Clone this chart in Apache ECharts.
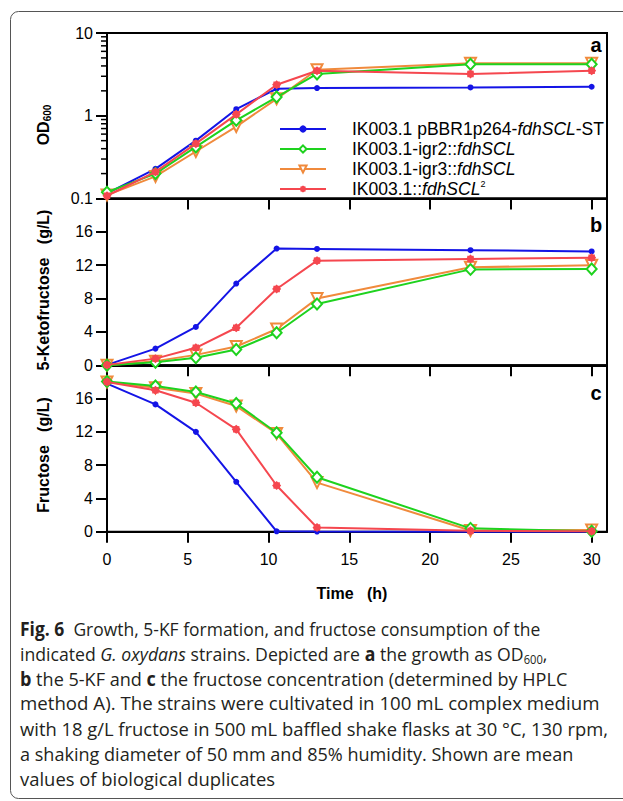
<!DOCTYPE html>
<html><head><meta charset="utf-8">
<script src="https://cdn.jsdelivr.net/npm/echarts@6/dist/echarts.min.js"></script>
<style>html,body{margin:0;padding:0;background:#fff}#c{width:623px;height:801px}</style>
</head><body><div id="c"></div>
<script>
// ---------- data ----------
const time = [0, 3, 5.5, 8, 10.5, 13, 22.5, 30];
const strainNames = ['IK003.1 pBBR1p264-fdhSCL-ST', 'IK003.1-igr2::fdhSCL', 'IK003.1-igr3::fdhSCL', 'IK003.1::fdhSCL2'];

const odBlue   = [0.115, 0.228, 0.50, 1.2, 2.12, 2.16, 2.2, 2.24];
const odGreen  = [0.119, 0.20, 0.42, 0.88, 1.68, 3.2, 4.2, 4.2];
const odOrange = [0.11, 0.185, 0.37, 0.74, 1.6, 3.6, 4.3, 4.3];
const odRed    = [0.108, 0.21, 0.46, 1.04, 2.37, 3.5, 3.2, 3.5];

const kfBlue   = [0.05, 2.0, 4.6, 9.8, 14.0, 13.95, 13.8, 13.65];
const kfGreen  = [0, 0.36, 0.9, 1.9, 3.9, 7.35, 11.5, 11.55];
const kfOrange = [0, 0.5, 1.25, 2.25, 4.35, 8.0, 11.75, 12.0];
const kfRed    = [0.05, 0.8, 2.1, 4.5, 9.15, 12.55, 12.75, 12.9];

const frBlue   = [17.8, 15.3, 12.0, 6.0, 0.05, 0.02, 0, 0];
const frGreen  = [18.05, 17.5, 16.8, 15.4, 11.9, 6.55, 0.4, 0.05];
const frOrange = [18.0, 17.3, 16.6, 15.1, 11.8, 5.9, 0.15, 0.2];
const frRed    = [18.0, 17.0, 15.5, 12.3, 5.55, 0.5, 0.1, 0.05];

const xTicks = [0, 5, 10, 15, 20, 25, 30];
const odMinorTicks = [0.2, 0.3, 0.4, 0.5, 0.6, 0.7, 0.8, 0.9, 2, 3, 4, 5, 6, 7, 8, 9];
const concTicks = [0, 4, 8, 12, 16];

// ---------- styles ----------
const FONT = "Arial, 'Liberation Sans', sans-serif";
const colBlue = '#1414e6', colGreen = '#1ed21e', colOrange = '#f08a3c', colRed = '#f5474f';

function starPath() {
  let s = 'path://';
  for (let k = 0; k < 16; k++) {
    const a = k * Math.PI / 8;
    const r = k % 2 ? 0.8 : 1;
    s += (k ? 'L' : 'M') + (10 + 10 * r * Math.cos(a)).toFixed(2) + ' ' + (10 + 10 * r * Math.sin(a)).toFixed(2);
  }
  return s + 'Z';
}
const STAR = starPath();

const styleDefs = [
  { color: colBlue, symbol: 'circle', size: 6, empty: false },
  { color: colGreen, symbol: 'emptyDiamond', size: [10, 11], empty: true },
  { color: colOrange, symbol: 'emptyTriangle', size: 11, empty: true, rotate: 180 },
  { color: colRed, symbol: STAR, size: 9, empty: false }
];
const panelData = [
  [odBlue, odGreen, odOrange, odRed],
  [kfBlue, kfGreen, kfOrange, kfRed],
  [frBlue, frGreen, frOrange, frRed]
];
const drawOrder = [0, 2, 1, 3];

const series = [];
for (let p = 0; p < 3; p++) {
  drawOrder.forEach(function (s, k) {
    const d = styleDefs[s];
    series.push({
      name: strainNames[s],
      type: 'line',
      xAxisIndex: p, yAxisIndex: p,
      data: time.map(function (t, i) { return [t, panelData[p][s][i]]; }),
      symbol: d.symbol,
      symbolSize: d.size,
      symbolRotate: d.rotate || 0,
      showAllSymbol: true,
      lineStyle: { color: d.color, width: 2 },
      itemStyle: d.empty ? { color: d.color, borderColor: d.color, borderWidth: 2 } : { color: d.color, borderWidth: 0 },
      z: 3 + k,
      clip: false,
      animation: false
    });
  });
}
series.push({
  type: 'custom',
  xAxisIndex: 0, yAxisIndex: 0,
  data: odMinorTicks.map(function (v) { return [0, v]; }),
  silent: true, clip: false, animation: false, z: 10,
  renderItem: function (params, api) {
    const pt = api.coord([0, api.value(1)]);
    return { type: 'line', shape: { x1: pt[0] - 6, y1: pt[1], x2: pt[0], y2: pt[1] }, style: { stroke: '#000', lineWidth: 1.5 } };
  }
});

const grids = [
  { left: 107, top: 33, width: 500, height: 165.5 },
  { left: 107, top: 198.5, width: 500, height: 166.8 },
  { left: 107, top: 365.3, width: 500, height: 166.4 }
].map(function (g) { return Object.assign({ show: true, borderColor: '#000', borderWidth: 2, backgroundColor: 'transparent' }, g); });

const axisLineStyle = { show: true, onZero: false, lineStyle: { color: '#000', width: 2 } };
const xAxes = [0, 1, 2].map(function (i) {
  return {
    type: 'value', gridIndex: i, min: 0, max: 30.95,
    axisLine: axisLineStyle,
    axisTick: { show: true, customValues: xTicks, length: 11, lineStyle: { color: '#000', width: 2 } },
    axisLabel: { show: i === 2, customValues: xTicks, margin: 20, fontSize: 16, color: '#000', fontFamily: FONT },
    splitLine: { show: false }
  };
});
const yAxes = [
  {
    type: 'log', logBase: 10, gridIndex: 0, min: 0.1, max: 10,
    axisLine: axisLineStyle,
    axisTick: { show: true, length: 11, lineStyle: { color: '#000', width: 2 } },
    axisLabel: { margin: 14, fontSize: 16, color: '#000', fontFamily: FONT,
      formatter: function (v) { return v < 0.5 ? '0.1' : String(Math.round(v)); } },
    splitLine: { show: false }, minorTick: { show: false }
  }
].concat([1, 2].map(function (i) {
  return {
    type: 'value', gridIndex: i, min: 0, max: 20, interval: 4,
    axisLine: axisLineStyle,
    axisTick: { show: true, customValues: concTicks, length: 11, lineStyle: { color: '#000', width: 2 } },
    axisLabel: { customValues: concTicks, margin: 14, fontSize: 16, color: '#000', fontFamily: FONT },
    splitLine: { show: false }
  };
}));

const legendText = {};
legendText[strainNames[0]] = '{n|IK003.1 pBBR1p264-}{i|fdhSCL}{n|-ST}';
legendText[strainNames[1]] = '{n|IK003.1-igr2::}{i|fdhSCL}';
legendText[strainNames[2]] = '{n|IK003.1-igr3::}{i|fdhSCL}';
legendText[strainNames[3]] = '{n|IK003.1::}{i|fdhSCL}{s|2}';

const CAP = "'Open Sans', 'Noto Sans', sans-serif";
const CAPSIZE = 19;
const capRich = {
  b: { fontFamily: CAP, fontSize: CAPSIZE, fontWeight: 'bold', fill: '#231f20', lineHeight: 25 },
  i: { fontFamily: CAP, fontSize: CAPSIZE, fontStyle: 'italic', fill: '#231f20', lineHeight: 25 },
  sub: { fontFamily: CAP, fontSize: 12, fill: '#231f20', lineHeight: 12, verticalAlign: 'bottom' }
};
const captionText = [
  '{b|Fig. 6}  Growth, 5-KF formation, and fructose consumption of the',
  'indicated {i|G. oxydans} strains. Depicted are {b|a} the growth as OD{sub|600},',
  '{b|b} the 5-KF and {b|c} the fructose concentration (determined by HPLC',
  'method A). The strains were cultivated in 100 mL complex medium',
  'with 18 g/L fructose in 500 mL baffled shake flasks at 30 °C, 130 rpm,',
  'a shaking diameter of 50 mm and 85% humidity. Shown are mean',
  'values of biological duplicates'
];
const captionScale = [0.92, 0.929, 0.951, 0.983, 0.968, 0.951, 0.97];

function vtext(x, y, txt, rich) {
  return { type: 'text', x: x, y: y, rotation: Math.PI / 2, z: 20,
    style: { text: txt, fontFamily: FONT, fontSize: 16, fontWeight: 'bold', fill: '#000', align: 'center', verticalAlign: 'middle', rich: rich } };
}
function letter(x, y, t) {
  return { type: 'text', x: x, y: y, z: 20, style: { text: t, fontFamily: FONT, fontSize: 20, fontWeight: 'bold', fill: '#000', align: 'center', verticalAlign: 'middle' } };
}

const graphics = [
  { type: 'rect', shape: { x: 10.5, y: 11.5, width: 700, height: 787, r: 8 }, style: { fill: 'none', stroke: '#555', lineWidth: 1 }, z: 0, silent: true },
  vtext(43, 125, '{b|OD}{s|600}', {
    b: { fontFamily: FONT, fontSize: 16, fontWeight: 'bold', fill: '#000', lineHeight: 18 },
    s: { fontFamily: FONT, fontSize: 10, fontWeight: 'bold', fill: '#000', lineHeight: 10, verticalAlign: 'bottom' }
  }),
  vtext(43, 290, '5-Ketofructose   (g/L)'),
  vtext(43, 455, 'Fructose   (g/L)'),
  letter(596, 45, 'a'),
  letter(596, 225, 'b'),
  letter(596, 393, 'c'),
  { type: 'text', x: 352, y: 593, z: 20, style: { text: 'Time   (h)', fontFamily: FONT, fontSize: 16, fontWeight: 'bold', fill: '#000', align: 'center', verticalAlign: 'middle' } }
].concat(captionText.map(function (line, i) {
  return { type: 'text', x: 20, y: 615.5 + 25 * i, z: 20, scaleX: captionScale[i],
    style: { text: line, fontFamily: CAP, fontSize: CAPSIZE, fill: '#231f20', lineHeight: 25, align: 'left', verticalAlign: 'top', rich: capRich } };
}));

const chart = echarts.init(document.getElementById('c'), null, { renderer: 'svg', width: 623, height: 801 });
chart.setOption({
  animation: false,
  backgroundColor: '#fff',
  grid: grids,
  xAxis: xAxes,
  yAxis: yAxes,
  legend: {
    data: strainNames, orient: 'vertical', left: 279, top: 119,
    itemWidth: 46, itemHeight: 9, itemGap: 0, selectedMode: false, padding: 0,
    formatter: function (n) { return legendText[n]; },
    textStyle: {
      padding: [0, 0, 0, 21], fontFamily: FONT, fontSize: 17.5, color: '#000', lineHeight: 20,
      rich: {
        n: { fontFamily: FONT, fontSize: 17.5, color: '#000', lineHeight: 20 },
        i: { fontFamily: FONT, fontSize: 17.5, fontStyle: 'italic', color: '#000', lineHeight: 20 },
        s: { fontFamily: FONT, fontSize: 9, color: '#000', lineHeight: 9, verticalAlign: 'top' }
      }
    }
  },
  series: series,
  graphic: graphics
});
</script></body></html>
